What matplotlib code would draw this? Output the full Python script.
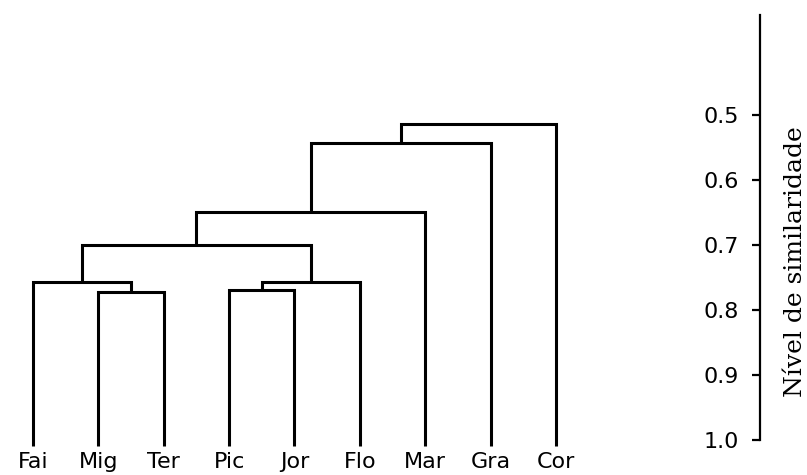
import matplotlib
matplotlib.use("Agg")
import matplotlib.pyplot as plt

# ---- data ----
leaves = ["Fai", "Mig", "Ter", "Pic", "Jor", "Flo", "Mar", "Gra", "Cor"]
# merges: (child_a, child_b, similarity level); leaf ids 0..8, new nodes 9..
merge_a = [1, 0, 3, 11, 10, 13, 14, 15]
merge_b = [2, 9, 4, 5, 12, 6, 7, 8]
merge_h = [0.772, 0.757, 0.769, 0.757, 0.700, 0.649, 0.543, 0.514]
tick_vals = [0.5, 0.6, 0.7, 0.8, 0.9, 1.0]
tick_labels = ["0.5", "0.6", "0.7", "0.8", "0.9", "1.0"]

LEAF_BASE = 1.01

fig = plt.figure(figsize=(8.07, 4.75), dpi=100)
ax = fig.add_axes([0, 0, 1, 1])
ax.set_xlim(-0.505, 11.84)
ax.set_ylim(1.054, 0.323)

# node positions
xpos = {i: float(i) for i in range(len(leaves))}
hpos = {i: LEAF_BASE for i in range(len(leaves))}
lw = 2.2
for k, (a, b, h) in enumerate(zip(merge_a, merge_b, merge_h)):
    node = len(leaves) + k
    xa, xb = xpos[a], xpos[b]
    ax.plot([xa, xa, xb, xb], [hpos[a], h, h, hpos[b]], color="black",
            lw=lw, solid_joinstyle="miter", solid_capstyle="butt")
    xpos[node] = (xa + xb) / 2
    hpos[node] = h

for i, name in enumerate(leaves):
    ax.text(i, 1.043, name, ha="center", va="baseline", fontsize=16,
            family="DejaVu Sans", color="black")

# scale axis
for s in ["top", "right", "bottom"]:
    ax.spines[s].set_visible(False)
ax.spines["left"].set_position(("data", (760 - 33) / 65.4))
ax.spines["left"].set_bounds(0.346, 1.0)
ax.spines["left"].set_linewidth(1.6)
ax.set_xticks([])
ax.set_yticks(tick_vals)
ax.set_yticklabels(tick_labels, fontsize=16, family="DejaVu Sans")
ax.tick_params(axis="y", direction="out", length=6, width=1.6, pad=9)

fig.text(796 / 807, 1 - 262 / 475, "Nível de similaridade", rotation=90,
         ha="center", va="center", fontsize=18, family="DejaVu Serif")

fig.savefig("out.png", dpi=100, facecolor="white")
